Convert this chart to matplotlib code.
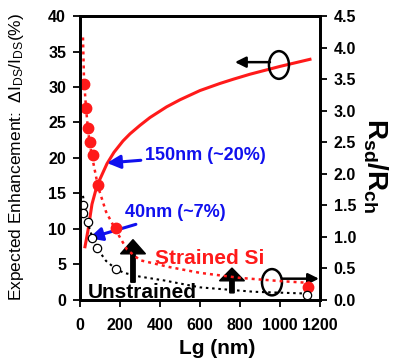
import matplotlib
matplotlib.use("Agg")
import matplotlib.pyplot as plt
from matplotlib.patches import Ellipse

plt.rcParams['font.family'] = ['Liberation Sans', 'DejaVu Sans']
plt.rcParams['mathtext.default'] = 'regular'

# Enhancement curve (left axis, %)
lg_enh = [25, 40, 60, 85, 135, 170, 215, 250, 300, 350, 433, 500, 600, 700, 767, 850, 1000, 1150]
enh = [7.5, 9.8, 13.5, 16.1, 19.2, 20.8, 22.4, 23.4, 24.6, 25.7, 27.2, 28.2, 29.5, 30.5, 31.1, 31.8, 32.9, 33.9]

# Rsd/Rch measured points (right axis)
lg_strained = [20, 30, 40, 50, 65, 90, 180, 1140]
r_strained = [3.42, 3.04, 2.73, 2.50, 2.30, 1.83, 1.14, 0.21]
lg_unstrained = [15, 15, 40, 60, 85, 180, 1135]
r_unstrained = [1.50, 1.38, 1.24, 0.98, 0.82, 0.49, 0.08]

# Rsd/Rch fit lines (right axis)
lg_fit_s = [15, 20, 30, 40, 50, 65, 90, 130, 180, 235, 300, 450, 600, 800, 1000, 1150]
r_fit_s = [4.16, 3.5, 3.05, 2.7, 2.45, 2.2, 1.8, 1.4, 1.1, 0.8, 0.63, 0.52, 0.43, 0.35, 0.3, 0.27]
lg_fit_u = [15, 25, 40, 60, 90, 130, 180, 220, 300, 420, 600, 870, 1150]
r_fit_u = [1.65, 1.45, 1.22, 1.0, 0.8, 0.62, 0.49, 0.43, 0.37, 0.31, 0.2, 0.13, 0.1]

RED = '#ff1a1a'
BLUE = '#1010ee'

fig = plt.figure(figsize=(3.95, 3.63), dpi=100)
ax = fig.add_axes([0.2025, 0.1736, 0.6075, 0.7823])
ax2 = ax.twinx()

ax.plot(lg_enh, enh, color=RED, lw=2.2, zorder=3)
ax2.plot(lg_fit_s, r_fit_s, color=RED, lw=1.8, ls=(0, (1.2, 1.6)))
ax2.plot(lg_fit_u, r_fit_u, color='black', lw=1.5, ls=(0, (1.2, 1.8)))
ax2.plot(lg_strained, r_strained, 'o', color=RED, ms=7.5, mec=RED)
ax2.plot(lg_unstrained, r_unstrained, 'o', mfc='white', mec='black', ms=6, mew=0.9)

ax.set_xlim(0, 1200)
ax.set_ylim(0, 40)
ax2.set_ylim(0, 4.5)
ax.set_xticks(range(0, 1201, 200))
ax.set_yticks(range(0, 41, 5))
ax2.set_yticks([i * 0.5 for i in range(10)])
ax2.set_yticklabels([f"{i * 0.5:.1f}" for i in range(10)])

for a in (ax, ax2):
    for s in a.spines.values():
        s.set_linewidth(2)
    a.tick_params(width=1.3, length=5, labelsize=11.5, direction='out')
    for lab in a.get_xticklabels() + a.get_yticklabels():
        lab.set_fontweight('bold')
ax.tick_params(axis='y', pad=5)
ax.tick_params(axis='x', pad=8)
ax2.tick_params(axis='y', pad=5)

fig.text(217 / 395, 1 - 349 / 363, 'Lg (nm)', fontsize=15, fontweight='bold',
         ha='center', va='center')
fig.text(0.043, 0.567, r'Expected Enhancement:  $\Delta$I$_{DS}$/I$_{DS}$(%)',
         rotation=90, fontsize=12.5, ha='center', va='center')
fig.text(0.95, 0.545, r'R$_{sd}$/R$_{ch}$', rotation=-90, fontsize=20,
         fontweight='bold', ha='center', va='center')

# blue annotations
ax.annotate('150nm (~20%)', xy=(135, 19.3), xytext=(325, 20.4), color=BLUE,
            fontsize=13, fontweight='bold', va='center',
            arrowprops=dict(arrowstyle='-|>', color=BLUE, lw=2.2, mutation_scale=20,
                            shrinkA=1, shrinkB=0))
ax.annotate('40nm (~7%)', xy=(45, 8.7), xytext=(225, 12.3), color=BLUE,
            fontsize=13, fontweight='bold', va='center',
            arrowprops=dict(arrowstyle='-|>', color=BLUE, lw=2.2, mutation_scale=20,
                            shrinkA=1, shrinkB=0))

ax.text(375, 5.9, 'Strained Si', color=RED, fontsize=15, fontweight='bold', va='center')
ax.text(40, 1.1, 'Unstrained', color='black', fontsize=15, fontweight='bold', va='center')

# fat up arrows
ax.arrow(265, 2.5, 0, 6.0, width=22, head_width=125, head_length=2.0,
         length_includes_head=True, color='black', zorder=4)
ax.arrow(760, 1.0, 0, 3.5, width=22, head_width=125, head_length=1.8,
         length_includes_head=True, color='black', zorder=4)

# ellipses with axis pointers
ax.add_patch(Ellipse((995, 33.1), 100, 3.9, fill=False, ec='black', lw=1.8, zorder=5))
ax.annotate('', xy=(775, 33.5), xytext=(950, 33.5),
            arrowprops=dict(arrowstyle='-|>', color='black', lw=1.8, mutation_scale=16,
                            shrinkA=0, shrinkB=0))
ax.add_patch(Ellipse((960, 2.5), 100, 3.7, fill=False, ec='black', lw=1.8, zorder=5))
ax.annotate('', xy=(1195, 3.0), xytext=(1010, 3.0),
            arrowprops=dict(arrowstyle='-|>', color='black', lw=1.8, mutation_scale=16,
                            shrinkA=0, shrinkB=0))

fig.savefig('out.png', dpi=100)
